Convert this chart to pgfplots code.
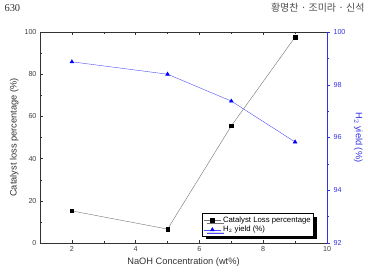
\documentclass[border=0pt]{standalone}
\usepackage{pgfplots}
\pgfplotsset{compat=1.18}
\usepackage{fontspec}
\setmainfont{Liberation Sans}
\newfontfamily\krfont{Noto Sans CJK KR}
\newfontfamily\serifnum{Liberation Serif}
\usetikzlibrary{shadows}
\definecolor{axblue}{RGB}{50,50,230}
\begin{document}
\begin{tikzpicture}
\useasboundingbox (0bp,0bp) rectangle (368bp,276bp);
\node[anchor=west,font=\serifnum\fontsize{10.5}{11}\selectfont,text=black!80] at (1bp,268bp) {630};
\node[anchor=east,font=\krfont\fontsize{10}{11}\selectfont,text=black!70] at (368bp,268bp) {황명찬 · 조미라 · 신석};
\begin{axis}[
  at={(40bp,33bp)}, anchor=south west,
  scale only axis, width=287bp, height=211bp,
  xmin=1, xmax=10, ymin=0, ymax=100,
  xtick={2,4,6,8,10}, minor xtick={1,3,5,7,9},
  ytick={0,20,40,60,80,100}, minor ytick={10,30,50,70,90},
  axis y line*=left, axis x line*=box,
  tick align=inside,
  tick style={black!80, thin},
  major tick length=3bp, minor tick length=2bp,
  ticklabel style={font=\fontsize{7.2}{8}\selectfont, text=black!75},
  /pgf/number format/assume math mode=true,
  xlabel={NaOH Concentration (wt\%)},
  ylabel={Catalyst loss percentage (\%)},
  label style={font=\fontsize{9.3}{10}\selectfont, text=black!80},
  xlabel style={yshift=1bp},
  ylabel style={yshift=-1bp},
  axis line style={black!80},
]
\addplot[black!55, thin, mark=square*, mark size=1.7bp, mark options={black, solid}]
  coordinates {(2,15.2) (5,6.6) (7,55.5) (9,97.6)};
\end{axis}
\begin{axis}[
  at={(40bp,33bp)}, anchor=south west,
  scale only axis, width=287bp, height=211bp,
  xmin=1, xmax=10, ymin=92, ymax=100,
  axis y line*=right, axis x line=none,
  ytick={92,94,96,98,100}, minor ytick={93,95,97,99},
  tick align=outside,
  major tick length=3bp, minor tick length=2bp,
  tick style={axblue, thin},
  y axis line style={axblue},
  yticklabel style={font=\fontsize{7.2}{8}\selectfont, text=axblue},
  /pgf/number format/assume math mode=true,
  ylabel={H$_2$ yield (\%)},
  ylabel style={font=\fontsize{9.3}{10}\selectfont, text=axblue, rotate=180, yshift=1.5bp},
  legend style={at={(0.955,0.03)}, anchor=south east, draw=black, line width=0.7bp,
    font=\fontsize{7.8}{8.5}\selectfont, inner sep=1bp, row sep=-1.5bp,
    drop shadow={shadow xshift=3bp, shadow yshift=-3bp, fill=black, opacity=1}},
  legend cell align=left,
]
\addlegendimage{black!55, thin, mark=square*, mark size=1.7bp, mark options={black, solid}}
\addlegendentry{Catalyst Loss percentage}
\addplot[blue!70, thin, mark=triangle*, mark size=2.2bp, mark options={blue, solid}]
  coordinates {(2,98.87) (5,98.4) (7,97.38) (9,95.83)};
\addlegendentry{H$_2$ yield (\%)}
\end{axis}
\end{tikzpicture}
\end{document}
